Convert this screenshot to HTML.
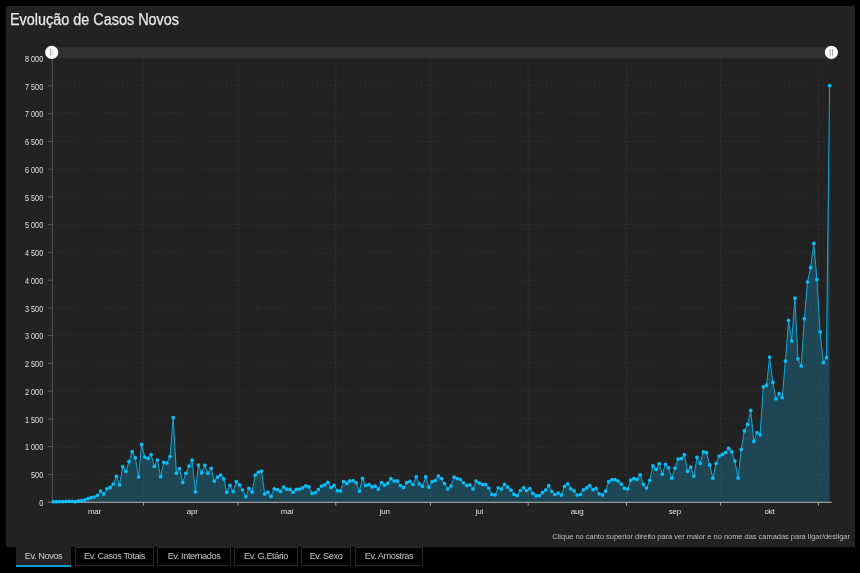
<!DOCTYPE html>
<html><head><meta charset="utf-8"><title>Evolução de Casos Novos</title>
<style>
html,body{margin:0;padding:0;background:#000;}
body{width:860px;height:573px;overflow:hidden;position:relative;font-family:"Liberation Sans",sans-serif;}
#panel{position:absolute;left:6px;top:6px;width:849px;height:540.5px;background:#222;}
#title{position:absolute;left:10px;top:10.7px;font-size:15.8px;-webkit-text-stroke:0.25px #e8e8e8;line-height:18px;color:#e8e8e8;white-space:nowrap;transform-origin:0 0;transform:scaleX(0.912) translateZ(0);}
svg{position:absolute;left:0;top:0;transform:translateZ(0);}
svg .yl text{font-size:8.6px;}
#note,.tab span{transform:translateZ(0);}
.tab span{display:block;}
.tab{position:absolute;top:547px;height:19px;box-sizing:border-box;border:1px solid #292929;color:#c4c4c4;font-size:9.2px;letter-spacing:-0.42px;line-height:17px;text-align:center;white-space:nowrap;}
.tab.active{top:546px;height:20.5px;border:none;border-bottom:2px solid #0a9bcd;background:#222;line-height:20px;color:#d0d0d0;}
#note{position:absolute;right:10px;top:531.7px;font-size:7.45px;color:#bdbdbd;white-space:nowrap;}
</style></head><body>
<div id="panel"></div>
<div id="title">Evolução de Casos Novos</div>
<svg width="860" height="573" viewBox="0 0 860 573">
<rect x="52" y="47.3" width="780" height="11.3" fill="#313131"/>
<g stroke="#303030" stroke-width="1" stroke-dasharray="2,2.33" fill="none"><line x1="52.35" y1="474.40" x2="832" y2="474.40"/><line x1="52.35" y1="446.65" x2="832" y2="446.65"/><line x1="52.35" y1="418.90" x2="832" y2="418.90"/><line x1="52.35" y1="391.15" x2="832" y2="391.15"/><line x1="52.35" y1="363.40" x2="832" y2="363.40"/><line x1="52.35" y1="335.65" x2="832" y2="335.65"/><line x1="52.35" y1="307.90" x2="832" y2="307.90"/><line x1="52.35" y1="280.15" x2="832" y2="280.15"/><line x1="52.35" y1="252.40" x2="832" y2="252.40"/><line x1="52.35" y1="224.65" x2="832" y2="224.65"/><line x1="52.35" y1="196.90" x2="832" y2="196.90"/><line x1="52.35" y1="169.15" x2="832" y2="169.15"/><line x1="52.35" y1="141.40" x2="832" y2="141.40"/><line x1="52.35" y1="113.65" x2="832" y2="113.65"/><line x1="52.35" y1="85.90" x2="832" y2="85.90"/><line x1="52.35" y1="58.15" x2="832" y2="58.15"/></g>
<g stroke="#343434" stroke-width="1" stroke-dasharray="2,2.33" fill="none"><line x1="143.40" y1="58.5" x2="143.40" y2="502.25"/><line x1="238.03" y1="58.5" x2="238.03" y2="502.25"/><line x1="335.81" y1="58.5" x2="335.81" y2="502.25"/><line x1="430.43" y1="58.5" x2="430.43" y2="502.25"/><line x1="528.21" y1="58.5" x2="528.21" y2="502.25"/><line x1="626.50" y1="58.5" x2="626.50" y2="502.25"/><line x1="720.62" y1="58.5" x2="720.62" y2="502.25"/><line x1="818.40" y1="58.5" x2="818.40" y2="502.25"/></g>
<path d="M53.3,502.25 L53.3,501.7 L56.4,501.7 L59.6,501.6 L62.8,501.6 L65.9,501.4 L69.1,501.3 L72.2,501.3 L75.4,501.7 L78.5,500.8 L81.7,500.7 L84.8,499.9 L88.0,498.6 L91.2,497.6 L94.3,497.0 L97.5,495.3 L100.6,491.0 L103.8,493.9 L106.9,488.8 L110.1,487.4 L113.2,484.0 L116.4,476.3 L119.6,485.0 L122.7,466.7 L125.9,471.3 L129.0,461.6 L132.2,451.7 L135.3,457.8 L138.5,477.0 L141.6,444.4 L144.8,457.0 L148.0,458.3 L151.1,454.5 L154.3,466.4 L157.4,460.0 L160.6,476.7 L163.7,462.3 L166.9,463.0 L170.0,456.6 L173.2,417.7 L176.4,473.2 L179.5,468.6 L182.7,482.4 L185.8,473.3 L189.0,466.1 L192.1,460.2 L195.3,491.8 L198.4,465.0 L201.6,472.9 L204.8,465.3 L207.9,473.2 L211.1,468.3 L214.2,481.2 L217.4,477.2 L220.5,475.0 L223.7,478.8 L226.8,492.3 L230.0,485.4 L233.2,491.6 L236.3,481.7 L239.5,484.8 L242.6,490.0 L245.8,496.7 L248.9,488.4 L252.1,491.9 L255.2,475.2 L258.4,472.2 L261.6,471.1 L264.7,494.1 L267.9,492.1 L271.0,496.4 L274.2,488.8 L277.3,489.6 L280.5,491.4 L283.6,487.1 L286.8,489.2 L290.0,489.3 L293.1,492.2 L296.3,489.4 L299.4,489.1 L302.6,487.8 L305.7,485.8 L308.9,486.8 L312.0,493.4 L315.2,492.6 L318.4,489.6 L321.5,486.0 L324.7,484.9 L327.8,482.4 L331.0,487.5 L334.1,485.3 L337.3,490.7 L340.4,491.0 L343.6,481.5 L346.8,483.4 L349.9,480.9 L353.1,480.6 L356.2,482.8 L359.4,491.1 L362.5,478.4 L365.7,485.5 L368.9,484.6 L372.0,486.8 L375.2,486.1 L378.3,489.2 L381.5,482.6 L384.6,485.2 L387.8,483.2 L390.9,478.7 L394.1,481.0 L397.3,480.9 L400.4,485.6 L403.6,487.4 L406.7,482.7 L409.9,481.4 L413.0,484.5 L416.2,476.8 L419.3,483.9 L422.5,486.3 L425.7,476.9 L428.8,487.1 L432.0,481.7 L435.1,480.5 L438.3,476.0 L441.4,478.5 L444.6,483.6 L447.7,488.9 L450.9,485.9 L454.1,477.2 L457.2,478.6 L460.4,479.5 L463.5,482.8 L466.7,485.6 L469.8,484.8 L473.0,488.9 L476.1,481.0 L479.3,483.0 L482.5,484.5 L485.6,484.4 L488.8,488.1 L491.9,494.3 L495.1,494.8 L498.2,487.8 L501.4,489.1 L504.5,484.4 L507.7,487.2 L510.9,490.2 L514.0,494.3 L517.2,495.6 L520.3,490.5 L523.5,487.6 L526.6,490.5 L529.8,488.6 L532.9,493.3 L536.1,495.9 L539.3,495.6 L542.4,492.5 L545.6,490.0 L548.7,485.7 L551.9,491.5 L555.0,494.5 L558.2,493.1 L561.3,495.1 L564.5,486.4 L567.7,483.8 L570.8,488.8 L574.0,490.8 L577.1,495.1 L580.3,494.5 L583.4,489.9 L586.6,487.8 L589.7,485.6 L592.9,489.6 L596.1,488.4 L599.2,493.8 L602.4,495.0 L605.5,491.1 L608.7,481.7 L611.8,479.7 L615.0,479.5 L618.1,481.0 L621.3,484.0 L624.5,488.3 L627.6,489.0 L630.8,480.2 L633.9,478.6 L637.1,479.3 L640.2,474.8 L643.4,484.3 L646.5,488.0 L649.7,480.3 L652.9,465.9 L656.0,469.3 L659.2,463.7 L662.3,474.2 L665.5,464.4 L668.6,467.8 L671.8,478.2 L674.9,468.2 L678.1,459.1 L681.3,458.5 L684.4,454.7 L687.6,471.2 L690.7,467.2 L693.9,476.1 L697.0,457.3 L700.2,463.4 L703.3,451.9 L706.5,452.7 L709.7,464.9 L712.8,478.2 L716.0,463.6 L719.1,456.0 L722.3,454.4 L725.4,452.5 L728.6,448.4 L731.7,451.6 L734.9,461.1 L738.1,478.1 L741.2,449.4 L744.4,430.9 L747.5,424.4 L750.7,410.4 L753.8,441.3 L757.0,432.5 L760.1,434.8 L763.3,386.8 L766.5,385.2 L769.6,357.1 L772.8,382.3 L775.9,398.8 L779.1,393.6 L782.2,397.7 L785.4,361.1 L788.5,320.3 L791.7,340.9 L794.9,298.2 L798.0,358.8 L801.2,366.0 L804.3,318.7 L807.5,282.0 L810.6,267.4 L813.8,243.4 L816.9,279.4 L820.1,331.9 L823.3,362.7 L826.4,357.7 L829.6,85.7 L829.6,502.25 Z" fill="#15b5ea" fill-opacity="0.25" stroke="none"/>
<g stroke="#4a6a74" stroke-opacity="0.0" stroke-width="1" stroke-dasharray="2.1,2.1" fill="none"></g>
<line x1="52.35" y1="58" x2="52.35" y2="502.25" stroke="#555" stroke-width="1"/>
<line x1="51.85" y1="502.3" x2="831.7" y2="502.3" stroke="#9a9a9a" stroke-width="1.2"/>
<g stroke="#555" stroke-width="1"><line x1="47.7" y1="502.15" x2="52.35" y2="502.15"/><line x1="47.7" y1="474.40" x2="52.35" y2="474.40"/><line x1="47.7" y1="446.65" x2="52.35" y2="446.65"/><line x1="47.7" y1="418.90" x2="52.35" y2="418.90"/><line x1="47.7" y1="391.15" x2="52.35" y2="391.15"/><line x1="47.7" y1="363.40" x2="52.35" y2="363.40"/><line x1="47.7" y1="335.65" x2="52.35" y2="335.65"/><line x1="47.7" y1="307.90" x2="52.35" y2="307.90"/><line x1="47.7" y1="280.15" x2="52.35" y2="280.15"/><line x1="47.7" y1="252.40" x2="52.35" y2="252.40"/><line x1="47.7" y1="224.65" x2="52.35" y2="224.65"/><line x1="47.7" y1="196.90" x2="52.35" y2="196.90"/><line x1="47.7" y1="169.15" x2="52.35" y2="169.15"/><line x1="47.7" y1="141.40" x2="52.35" y2="141.40"/><line x1="47.7" y1="113.65" x2="52.35" y2="113.65"/><line x1="47.7" y1="85.90" x2="52.35" y2="85.90"/><line x1="47.7" y1="58.15" x2="52.35" y2="58.15"/></g><line x1="47.7" y1="502.15" x2="52.35" y2="502.15" stroke="#6a6a6a" stroke-width="1.1"/><g stroke="#a8a8a8" stroke-width="1"><line x1="143.40" y1="502.25" x2="143.40" y2="505.65"/><line x1="238.03" y1="502.25" x2="238.03" y2="505.65"/><line x1="335.81" y1="502.25" x2="335.81" y2="505.65"/><line x1="430.43" y1="502.25" x2="430.43" y2="505.65"/><line x1="528.21" y1="502.25" x2="528.21" y2="505.65"/><line x1="626.50" y1="502.25" x2="626.50" y2="505.65"/><line x1="720.62" y1="502.25" x2="720.62" y2="505.65"/><line x1="818.40" y1="502.25" x2="818.40" y2="505.65"/></g>
<polyline points="53.3,501.7 56.4,501.7 59.6,501.6 62.8,501.6 65.9,501.4 69.1,501.3 72.2,501.3 75.4,501.7 78.5,500.8 81.7,500.7 84.8,499.9 88.0,498.6 91.2,497.6 94.3,497.0 97.5,495.3 100.6,491.0 103.8,493.9 106.9,488.8 110.1,487.4 113.2,484.0 116.4,476.3 119.6,485.0 122.7,466.7 125.9,471.3 129.0,461.6 132.2,451.7 135.3,457.8 138.5,477.0 141.6,444.4 144.8,457.0 148.0,458.3 151.1,454.5 154.3,466.4 157.4,460.0 160.6,476.7 163.7,462.3 166.9,463.0 170.0,456.6 173.2,417.7 176.4,473.2 179.5,468.6 182.7,482.4 185.8,473.3 189.0,466.1 192.1,460.2 195.3,491.8 198.4,465.0 201.6,472.9 204.8,465.3 207.9,473.2 211.1,468.3 214.2,481.2 217.4,477.2 220.5,475.0 223.7,478.8 226.8,492.3 230.0,485.4 233.2,491.6 236.3,481.7 239.5,484.8 242.6,490.0 245.8,496.7 248.9,488.4 252.1,491.9 255.2,475.2 258.4,472.2 261.6,471.1 264.7,494.1 267.9,492.1 271.0,496.4 274.2,488.8 277.3,489.6 280.5,491.4 283.6,487.1 286.8,489.2 290.0,489.3 293.1,492.2 296.3,489.4 299.4,489.1 302.6,487.8 305.7,485.8 308.9,486.8 312.0,493.4 315.2,492.6 318.4,489.6 321.5,486.0 324.7,484.9 327.8,482.4 331.0,487.5 334.1,485.3 337.3,490.7 340.4,491.0 343.6,481.5 346.8,483.4 349.9,480.9 353.1,480.6 356.2,482.8 359.4,491.1 362.5,478.4 365.7,485.5 368.9,484.6 372.0,486.8 375.2,486.1 378.3,489.2 381.5,482.6 384.6,485.2 387.8,483.2 390.9,478.7 394.1,481.0 397.3,480.9 400.4,485.6 403.6,487.4 406.7,482.7 409.9,481.4 413.0,484.5 416.2,476.8 419.3,483.9 422.5,486.3 425.7,476.9 428.8,487.1 432.0,481.7 435.1,480.5 438.3,476.0 441.4,478.5 444.6,483.6 447.7,488.9 450.9,485.9 454.1,477.2 457.2,478.6 460.4,479.5 463.5,482.8 466.7,485.6 469.8,484.8 473.0,488.9 476.1,481.0 479.3,483.0 482.5,484.5 485.6,484.4 488.8,488.1 491.9,494.3 495.1,494.8 498.2,487.8 501.4,489.1 504.5,484.4 507.7,487.2 510.9,490.2 514.0,494.3 517.2,495.6 520.3,490.5 523.5,487.6 526.6,490.5 529.8,488.6 532.9,493.3 536.1,495.9 539.3,495.6 542.4,492.5 545.6,490.0 548.7,485.7 551.9,491.5 555.0,494.5 558.2,493.1 561.3,495.1 564.5,486.4 567.7,483.8 570.8,488.8 574.0,490.8 577.1,495.1 580.3,494.5 583.4,489.9 586.6,487.8 589.7,485.6 592.9,489.6 596.1,488.4 599.2,493.8 602.4,495.0 605.5,491.1 608.7,481.7 611.8,479.7 615.0,479.5 618.1,481.0 621.3,484.0 624.5,488.3 627.6,489.0 630.8,480.2 633.9,478.6 637.1,479.3 640.2,474.8 643.4,484.3 646.5,488.0 649.7,480.3 652.9,465.9 656.0,469.3 659.2,463.7 662.3,474.2 665.5,464.4 668.6,467.8 671.8,478.2 674.9,468.2 678.1,459.1 681.3,458.5 684.4,454.7 687.6,471.2 690.7,467.2 693.9,476.1 697.0,457.3 700.2,463.4 703.3,451.9 706.5,452.7 709.7,464.9 712.8,478.2 716.0,463.6 719.1,456.0 722.3,454.4 725.4,452.5 728.6,448.4 731.7,451.6 734.9,461.1 738.1,478.1 741.2,449.4 744.4,430.9 747.5,424.4 750.7,410.4 753.8,441.3 757.0,432.5 760.1,434.8 763.3,386.8 766.5,385.2 769.6,357.1 772.8,382.3 775.9,398.8 779.1,393.6 782.2,397.7 785.4,361.1 788.5,320.3 791.7,340.9 794.9,298.2 798.0,358.8 801.2,366.0 804.3,318.7 807.5,282.0 810.6,267.4 813.8,243.4 816.9,279.4 820.1,331.9 823.3,362.7 826.4,357.7 829.6,85.7" fill="none" stroke="#0bb5ea" stroke-width="1" stroke-opacity="0.9"/>
<g fill="#04bffb"><circle cx="53.3" cy="501.7" r="1.85"/><circle cx="56.4" cy="501.7" r="1.85"/><circle cx="59.6" cy="501.6" r="1.85"/><circle cx="62.8" cy="501.6" r="1.85"/><circle cx="65.9" cy="501.4" r="1.85"/><circle cx="69.1" cy="501.3" r="1.85"/><circle cx="72.2" cy="501.3" r="1.85"/><circle cx="75.4" cy="501.7" r="1.85"/><circle cx="78.5" cy="500.8" r="1.85"/><circle cx="81.7" cy="500.7" r="1.85"/><circle cx="84.8" cy="499.9" r="1.85"/><circle cx="88.0" cy="498.6" r="1.85"/><circle cx="91.2" cy="497.6" r="1.85"/><circle cx="94.3" cy="497.0" r="1.85"/><circle cx="97.5" cy="495.3" r="1.85"/><circle cx="100.6" cy="491.0" r="1.85"/><circle cx="103.8" cy="493.9" r="1.85"/><circle cx="106.9" cy="488.8" r="1.85"/><circle cx="110.1" cy="487.4" r="1.85"/><circle cx="113.2" cy="484.0" r="1.85"/><circle cx="116.4" cy="476.3" r="1.85"/><circle cx="119.6" cy="485.0" r="1.85"/><circle cx="122.7" cy="466.7" r="1.85"/><circle cx="125.9" cy="471.3" r="1.85"/><circle cx="129.0" cy="461.6" r="1.85"/><circle cx="132.2" cy="451.7" r="1.85"/><circle cx="135.3" cy="457.8" r="1.85"/><circle cx="138.5" cy="477.0" r="1.85"/><circle cx="141.6" cy="444.4" r="1.85"/><circle cx="144.8" cy="457.0" r="1.85"/><circle cx="148.0" cy="458.3" r="1.85"/><circle cx="151.1" cy="454.5" r="1.85"/><circle cx="154.3" cy="466.4" r="1.85"/><circle cx="157.4" cy="460.0" r="1.85"/><circle cx="160.6" cy="476.7" r="1.85"/><circle cx="163.7" cy="462.3" r="1.85"/><circle cx="166.9" cy="463.0" r="1.85"/><circle cx="170.0" cy="456.6" r="1.85"/><circle cx="173.2" cy="417.7" r="1.85"/><circle cx="176.4" cy="473.2" r="1.85"/><circle cx="179.5" cy="468.6" r="1.85"/><circle cx="182.7" cy="482.4" r="1.85"/><circle cx="185.8" cy="473.3" r="1.85"/><circle cx="189.0" cy="466.1" r="1.85"/><circle cx="192.1" cy="460.2" r="1.85"/><circle cx="195.3" cy="491.8" r="1.85"/><circle cx="198.4" cy="465.0" r="1.85"/><circle cx="201.6" cy="472.9" r="1.85"/><circle cx="204.8" cy="465.3" r="1.85"/><circle cx="207.9" cy="473.2" r="1.85"/><circle cx="211.1" cy="468.3" r="1.85"/><circle cx="214.2" cy="481.2" r="1.85"/><circle cx="217.4" cy="477.2" r="1.85"/><circle cx="220.5" cy="475.0" r="1.85"/><circle cx="223.7" cy="478.8" r="1.85"/><circle cx="226.8" cy="492.3" r="1.85"/><circle cx="230.0" cy="485.4" r="1.85"/><circle cx="233.2" cy="491.6" r="1.85"/><circle cx="236.3" cy="481.7" r="1.85"/><circle cx="239.5" cy="484.8" r="1.85"/><circle cx="242.6" cy="490.0" r="1.85"/><circle cx="245.8" cy="496.7" r="1.85"/><circle cx="248.9" cy="488.4" r="1.85"/><circle cx="252.1" cy="491.9" r="1.85"/><circle cx="255.2" cy="475.2" r="1.85"/><circle cx="258.4" cy="472.2" r="1.85"/><circle cx="261.6" cy="471.1" r="1.85"/><circle cx="264.7" cy="494.1" r="1.85"/><circle cx="267.9" cy="492.1" r="1.85"/><circle cx="271.0" cy="496.4" r="1.85"/><circle cx="274.2" cy="488.8" r="1.85"/><circle cx="277.3" cy="489.6" r="1.85"/><circle cx="280.5" cy="491.4" r="1.85"/><circle cx="283.6" cy="487.1" r="1.85"/><circle cx="286.8" cy="489.2" r="1.85"/><circle cx="290.0" cy="489.3" r="1.85"/><circle cx="293.1" cy="492.2" r="1.85"/><circle cx="296.3" cy="489.4" r="1.85"/><circle cx="299.4" cy="489.1" r="1.85"/><circle cx="302.6" cy="487.8" r="1.85"/><circle cx="305.7" cy="485.8" r="1.85"/><circle cx="308.9" cy="486.8" r="1.85"/><circle cx="312.0" cy="493.4" r="1.85"/><circle cx="315.2" cy="492.6" r="1.85"/><circle cx="318.4" cy="489.6" r="1.85"/><circle cx="321.5" cy="486.0" r="1.85"/><circle cx="324.7" cy="484.9" r="1.85"/><circle cx="327.8" cy="482.4" r="1.85"/><circle cx="331.0" cy="487.5" r="1.85"/><circle cx="334.1" cy="485.3" r="1.85"/><circle cx="337.3" cy="490.7" r="1.85"/><circle cx="340.4" cy="491.0" r="1.85"/><circle cx="343.6" cy="481.5" r="1.85"/><circle cx="346.8" cy="483.4" r="1.85"/><circle cx="349.9" cy="480.9" r="1.85"/><circle cx="353.1" cy="480.6" r="1.85"/><circle cx="356.2" cy="482.8" r="1.85"/><circle cx="359.4" cy="491.1" r="1.85"/><circle cx="362.5" cy="478.4" r="1.85"/><circle cx="365.7" cy="485.5" r="1.85"/><circle cx="368.9" cy="484.6" r="1.85"/><circle cx="372.0" cy="486.8" r="1.85"/><circle cx="375.2" cy="486.1" r="1.85"/><circle cx="378.3" cy="489.2" r="1.85"/><circle cx="381.5" cy="482.6" r="1.85"/><circle cx="384.6" cy="485.2" r="1.85"/><circle cx="387.8" cy="483.2" r="1.85"/><circle cx="390.9" cy="478.7" r="1.85"/><circle cx="394.1" cy="481.0" r="1.85"/><circle cx="397.3" cy="480.9" r="1.85"/><circle cx="400.4" cy="485.6" r="1.85"/><circle cx="403.6" cy="487.4" r="1.85"/><circle cx="406.7" cy="482.7" r="1.85"/><circle cx="409.9" cy="481.4" r="1.85"/><circle cx="413.0" cy="484.5" r="1.85"/><circle cx="416.2" cy="476.8" r="1.85"/><circle cx="419.3" cy="483.9" r="1.85"/><circle cx="422.5" cy="486.3" r="1.85"/><circle cx="425.7" cy="476.9" r="1.85"/><circle cx="428.8" cy="487.1" r="1.85"/><circle cx="432.0" cy="481.7" r="1.85"/><circle cx="435.1" cy="480.5" r="1.85"/><circle cx="438.3" cy="476.0" r="1.85"/><circle cx="441.4" cy="478.5" r="1.85"/><circle cx="444.6" cy="483.6" r="1.85"/><circle cx="447.7" cy="488.9" r="1.85"/><circle cx="450.9" cy="485.9" r="1.85"/><circle cx="454.1" cy="477.2" r="1.85"/><circle cx="457.2" cy="478.6" r="1.85"/><circle cx="460.4" cy="479.5" r="1.85"/><circle cx="463.5" cy="482.8" r="1.85"/><circle cx="466.7" cy="485.6" r="1.85"/><circle cx="469.8" cy="484.8" r="1.85"/><circle cx="473.0" cy="488.9" r="1.85"/><circle cx="476.1" cy="481.0" r="1.85"/><circle cx="479.3" cy="483.0" r="1.85"/><circle cx="482.5" cy="484.5" r="1.85"/><circle cx="485.6" cy="484.4" r="1.85"/><circle cx="488.8" cy="488.1" r="1.85"/><circle cx="491.9" cy="494.3" r="1.85"/><circle cx="495.1" cy="494.8" r="1.85"/><circle cx="498.2" cy="487.8" r="1.85"/><circle cx="501.4" cy="489.1" r="1.85"/><circle cx="504.5" cy="484.4" r="1.85"/><circle cx="507.7" cy="487.2" r="1.85"/><circle cx="510.9" cy="490.2" r="1.85"/><circle cx="514.0" cy="494.3" r="1.85"/><circle cx="517.2" cy="495.6" r="1.85"/><circle cx="520.3" cy="490.5" r="1.85"/><circle cx="523.5" cy="487.6" r="1.85"/><circle cx="526.6" cy="490.5" r="1.85"/><circle cx="529.8" cy="488.6" r="1.85"/><circle cx="532.9" cy="493.3" r="1.85"/><circle cx="536.1" cy="495.9" r="1.85"/><circle cx="539.3" cy="495.6" r="1.85"/><circle cx="542.4" cy="492.5" r="1.85"/><circle cx="545.6" cy="490.0" r="1.85"/><circle cx="548.7" cy="485.7" r="1.85"/><circle cx="551.9" cy="491.5" r="1.85"/><circle cx="555.0" cy="494.5" r="1.85"/><circle cx="558.2" cy="493.1" r="1.85"/><circle cx="561.3" cy="495.1" r="1.85"/><circle cx="564.5" cy="486.4" r="1.85"/><circle cx="567.7" cy="483.8" r="1.85"/><circle cx="570.8" cy="488.8" r="1.85"/><circle cx="574.0" cy="490.8" r="1.85"/><circle cx="577.1" cy="495.1" r="1.85"/><circle cx="580.3" cy="494.5" r="1.85"/><circle cx="583.4" cy="489.9" r="1.85"/><circle cx="586.6" cy="487.8" r="1.85"/><circle cx="589.7" cy="485.6" r="1.85"/><circle cx="592.9" cy="489.6" r="1.85"/><circle cx="596.1" cy="488.4" r="1.85"/><circle cx="599.2" cy="493.8" r="1.85"/><circle cx="602.4" cy="495.0" r="1.85"/><circle cx="605.5" cy="491.1" r="1.85"/><circle cx="608.7" cy="481.7" r="1.85"/><circle cx="611.8" cy="479.7" r="1.85"/><circle cx="615.0" cy="479.5" r="1.85"/><circle cx="618.1" cy="481.0" r="1.85"/><circle cx="621.3" cy="484.0" r="1.85"/><circle cx="624.5" cy="488.3" r="1.85"/><circle cx="627.6" cy="489.0" r="1.85"/><circle cx="630.8" cy="480.2" r="1.85"/><circle cx="633.9" cy="478.6" r="1.85"/><circle cx="637.1" cy="479.3" r="1.85"/><circle cx="640.2" cy="474.8" r="1.85"/><circle cx="643.4" cy="484.3" r="1.85"/><circle cx="646.5" cy="488.0" r="1.85"/><circle cx="649.7" cy="480.3" r="1.85"/><circle cx="652.9" cy="465.9" r="1.85"/><circle cx="656.0" cy="469.3" r="1.85"/><circle cx="659.2" cy="463.7" r="1.85"/><circle cx="662.3" cy="474.2" r="1.85"/><circle cx="665.5" cy="464.4" r="1.85"/><circle cx="668.6" cy="467.8" r="1.85"/><circle cx="671.8" cy="478.2" r="1.85"/><circle cx="674.9" cy="468.2" r="1.85"/><circle cx="678.1" cy="459.1" r="1.85"/><circle cx="681.3" cy="458.5" r="1.85"/><circle cx="684.4" cy="454.7" r="1.85"/><circle cx="687.6" cy="471.2" r="1.85"/><circle cx="690.7" cy="467.2" r="1.85"/><circle cx="693.9" cy="476.1" r="1.85"/><circle cx="697.0" cy="457.3" r="1.85"/><circle cx="700.2" cy="463.4" r="1.85"/><circle cx="703.3" cy="451.9" r="1.85"/><circle cx="706.5" cy="452.7" r="1.85"/><circle cx="709.7" cy="464.9" r="1.85"/><circle cx="712.8" cy="478.2" r="1.85"/><circle cx="716.0" cy="463.6" r="1.85"/><circle cx="719.1" cy="456.0" r="1.85"/><circle cx="722.3" cy="454.4" r="1.85"/><circle cx="725.4" cy="452.5" r="1.85"/><circle cx="728.6" cy="448.4" r="1.85"/><circle cx="731.7" cy="451.6" r="1.85"/><circle cx="734.9" cy="461.1" r="1.85"/><circle cx="738.1" cy="478.1" r="1.85"/><circle cx="741.2" cy="449.4" r="1.85"/><circle cx="744.4" cy="430.9" r="1.85"/><circle cx="747.5" cy="424.4" r="1.85"/><circle cx="750.7" cy="410.4" r="1.85"/><circle cx="753.8" cy="441.3" r="1.85"/><circle cx="757.0" cy="432.5" r="1.85"/><circle cx="760.1" cy="434.8" r="1.85"/><circle cx="763.3" cy="386.8" r="1.85"/><circle cx="766.5" cy="385.2" r="1.85"/><circle cx="769.6" cy="357.1" r="1.85"/><circle cx="772.8" cy="382.3" r="1.85"/><circle cx="775.9" cy="398.8" r="1.85"/><circle cx="779.1" cy="393.6" r="1.85"/><circle cx="782.2" cy="397.7" r="1.85"/><circle cx="785.4" cy="361.1" r="1.85"/><circle cx="788.5" cy="320.3" r="1.85"/><circle cx="791.7" cy="340.9" r="1.85"/><circle cx="794.9" cy="298.2" r="1.85"/><circle cx="798.0" cy="358.8" r="1.85"/><circle cx="801.2" cy="366.0" r="1.85"/><circle cx="804.3" cy="318.7" r="1.85"/><circle cx="807.5" cy="282.0" r="1.85"/><circle cx="810.6" cy="267.4" r="1.85"/><circle cx="813.8" cy="243.4" r="1.85"/><circle cx="816.9" cy="279.4" r="1.85"/><circle cx="820.1" cy="331.9" r="1.85"/><circle cx="823.3" cy="362.7" r="1.85"/><circle cx="826.4" cy="357.7" r="1.85"/><circle cx="829.6" cy="85.7" r="1.85"/></g>
<g font-family="Liberation Sans, sans-serif" font-size="8px" fill="#e0e0e0"><g class="yl"><text x="43.2" y="505.85" text-anchor="end" textLength="4.04" lengthAdjust="spacingAndGlyphs">0</text><text x="43.2" y="478.10" text-anchor="end" textLength="12.12" lengthAdjust="spacingAndGlyphs">500</text><text x="43.2" y="450.35" text-anchor="end" textLength="18.18" lengthAdjust="spacingAndGlyphs">1 000</text><text x="43.2" y="422.60" text-anchor="end" textLength="18.18" lengthAdjust="spacingAndGlyphs">1 500</text><text x="43.2" y="394.85" text-anchor="end" textLength="18.18" lengthAdjust="spacingAndGlyphs">2 000</text><text x="43.2" y="367.10" text-anchor="end" textLength="18.18" lengthAdjust="spacingAndGlyphs">2 500</text><text x="43.2" y="339.35" text-anchor="end" textLength="18.18" lengthAdjust="spacingAndGlyphs">3 000</text><text x="43.2" y="311.60" text-anchor="end" textLength="18.18" lengthAdjust="spacingAndGlyphs">3 500</text><text x="43.2" y="283.85" text-anchor="end" textLength="18.18" lengthAdjust="spacingAndGlyphs">4 000</text><text x="43.2" y="256.10" text-anchor="end" textLength="18.18" lengthAdjust="spacingAndGlyphs">4 500</text><text x="43.2" y="228.35" text-anchor="end" textLength="18.18" lengthAdjust="spacingAndGlyphs">5 000</text><text x="43.2" y="200.60" text-anchor="end" textLength="18.18" lengthAdjust="spacingAndGlyphs">5 500</text><text x="43.2" y="172.85" text-anchor="end" textLength="18.18" lengthAdjust="spacingAndGlyphs">6 000</text><text x="43.2" y="145.10" text-anchor="end" textLength="18.18" lengthAdjust="spacingAndGlyphs">6 500</text><text x="43.2" y="117.35" text-anchor="end" textLength="18.18" lengthAdjust="spacingAndGlyphs">7 000</text><text x="43.2" y="89.60" text-anchor="end" textLength="18.18" lengthAdjust="spacingAndGlyphs">7 500</text><text x="43.2" y="61.85" text-anchor="end" textLength="18.18" lengthAdjust="spacingAndGlyphs">8 000</text></g><g style="letter-spacing:-0.2px"><text x="94.5" y="514.3" text-anchor="middle">mar</text><text x="192.3" y="514.3" text-anchor="middle">apr</text><text x="286.9" y="514.3" text-anchor="middle">mai</text><text x="384.7" y="514.3" text-anchor="middle">jun</text><text x="479.3" y="514.3" text-anchor="middle">jul</text><text x="577.1" y="514.3" text-anchor="middle">aug</text><text x="674.9" y="514.3" text-anchor="middle">sep</text><text x="769.5" y="514.3" text-anchor="middle">okt</text></g></g>
<g stroke-width="0.9" stroke-dasharray="1.3,0.45">
<circle cx="51.7" cy="52.45" r="6.6" fill="#fff" stroke="none"/>
<line x1="50.5" y1="49" x2="50.5" y2="56" stroke="#7a7a7a"/>
<line x1="52.9" y1="49" x2="52.9" y2="56" stroke="#b4b4b4"/>
<circle cx="831.4" cy="52.45" r="6.6" fill="#fff" stroke="none"/>
<line x1="830.2" y1="49" x2="830.2" y2="56" stroke="#7a7a7a"/>
<line x1="832.5" y1="49" x2="832.5" y2="56" stroke="#7a7a7a"/>
</g>
</svg>
<div id="note">Clique no canto superior direito para ver maior e no nome das camadas para ligar/desligar</div>
<div class="tab active" style="left:16px;width:55px;"><span>Ev. Novos</span></div>
<div class="tab" style="left:75px;width:79px;"><span>Ev. Casos Totais</span></div>
<div class="tab" style="left:157px;width:74px;"><span>Ev. Internados</span></div>
<div class="tab" style="left:234px;width:64px;"><span>Ev. G.Etário</span></div>
<div class="tab" style="left:301px;width:50px;"><span>Ev. Sexo</span></div>
<div class="tab" style="left:355px;width:68px;"><span>Ev. Amostras</span></div>
</body></html>
